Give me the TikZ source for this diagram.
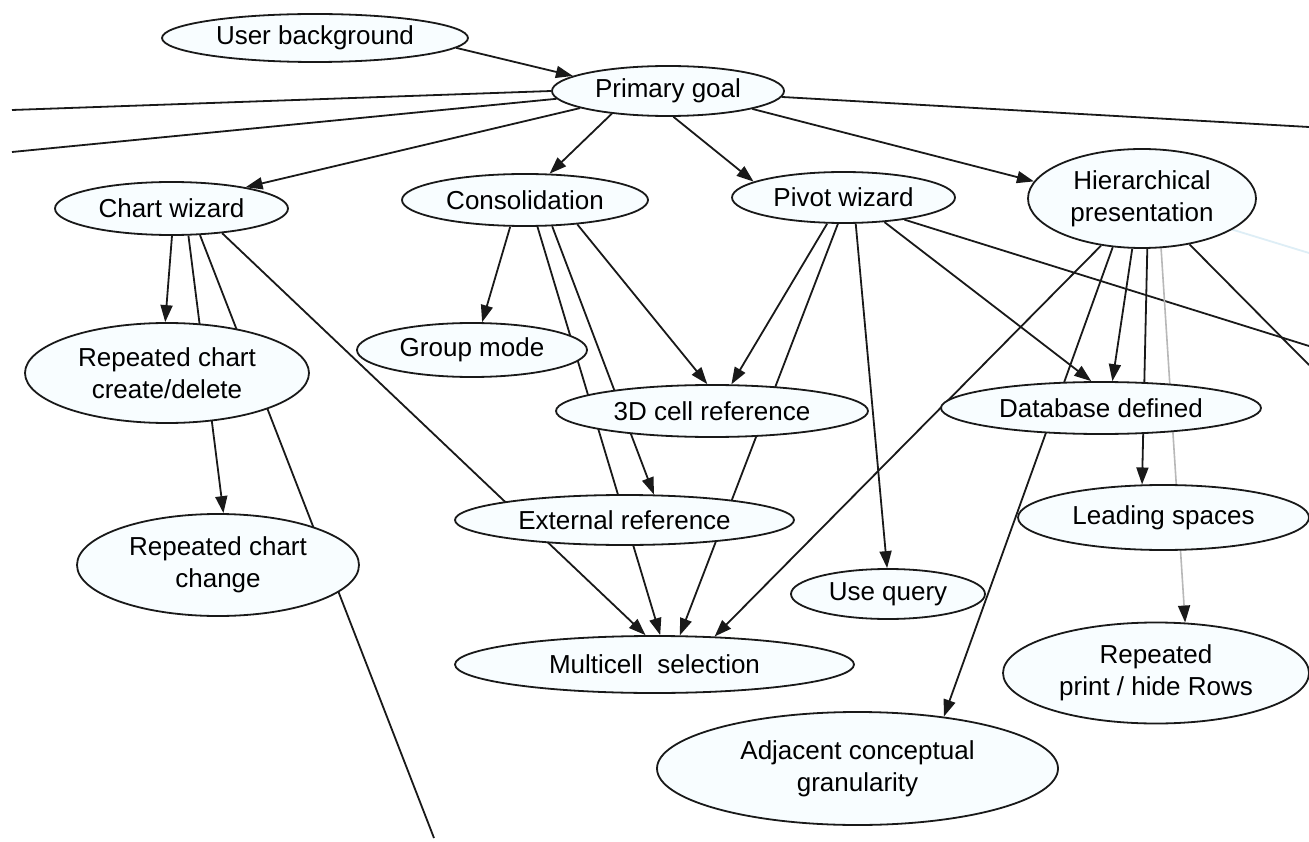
\documentclass[tikz,border=0pt]{standalone}
\usepackage{fontspec}
\setmainfont{Liberation Sans}
\usetikzlibrary{shapes.geometric,arrows.meta,backgrounds}
\definecolor{nodefill}{RGB}{248,253,255}
\definecolor{faintline}{RGB}{222,238,246}
\tikzset{
  state/.style={ellipse, draw=black!90, line width=1.8pt, fill=nodefill,
    inner sep=0pt, align=center, font=\fontsize{26}{32}\selectfont},
  link/.style={draw=black!90, line width=1.8pt},
  arr/.style={link, -{Triangle[length=17pt,width=12pt]}},
  arrlight/.style={draw=black!28, line width=1.6pt,
    -{Triangle[length=17pt,width=12pt,color=black!90]}},
}
\begin{document}
\begin{tikzpicture}[x=1pt,y=-1pt]
\useasboundingbox (0,0) rectangle (1309,842);

% goal hierarchy nodes
\node[state, minimum width=306pt, minimum height=48pt]  (ub)  at (315,38)       {User background};
\node[state, minimum width=232pt, minimum height=50pt]  (pg)  at (668,91)       {Primary goal};
\node[state, minimum width=233pt, minimum height=53pt]  (cw)  at (171.5,208.5)  {Chart wizard};
\node[state, minimum width=246pt, minimum height=52pt]  (co)  at (525,200)      {Consolidation};
\node[state, minimum width=223pt, minimum height=51pt]  (pw)  at (843.5,197.5)  {Pivot wizard};
\node[state, minimum width=228pt, minimum height=99pt]  (hp)  at (1142,198.5)   {Hierarchical\\presentation};
\node[state, minimum width=284pt, minimum height=100pt] (rcd) at (167,373)      {Repeated chart\\create/delete};
\node[state, minimum width=230pt, minimum height=54pt]  (gm)  at (472,350)      {Group mode};
\node[state, minimum width=312pt, minimum height=52pt]  (c3)  at (712,411)      {3D cell reference};
\node[state, minimum width=320pt, minimum height=52pt]  (db)  at (1101,408)     {Database defined};
\node[state, minimum width=282pt, minimum height=102pt] (rch) at (218,565)      {Repeated chart\\change};
\node[state, minimum width=339pt, minimum height=50pt]  (er)  at (624.5,520)    {External reference};
\node[state, minimum width=291pt, minimum height=65pt]  (ls)  at (1163.5,517.5) {Leading spaces};
\node[state, minimum width=194pt, minimum height=50pt]  (uq)  at (888,594)      {Use query};
\node[state, minimum width=399pt, minimum height=57pt]  (mc)  at (654.5,664.5)  {Multicell\ \ selection};
\node[state, minimum width=306pt, minimum height=101pt] (rp)  at (1156,673)     {Repeated\\print / hide Rows};
\node[state, minimum width=401pt, minimum height=113pt] (ad)  at (857.5,768.5)  {Adjacent conceptual\\granularity};

% loose ends of edges leaving the drawing area
\coordinate (offL1) at (12,110);
\coordinate (offL2) at (12,152);
\coordinate (offR1) at (1309,127);
\coordinate (offR2) at (1309,346);
\coordinate (offR3) at (1309,365);
\coordinate (offR4) at (1309,253);
\coordinate (offB)  at (434,838);

\begin{pgfonlayer}{background}
\fill[white] (0,0) rectangle (1309,842);
% primary goal
\draw[arr]  (ub.-4)   -- (pg.171);
\draw[link] (pg.180)  -- (offL1);
\draw[link] (pg.184)  -- (offL2);
\draw[link] (pg.-3)   -- (offR1);
\draw[arr]  (pg.191)  -- (cw.16);
\draw[arr]  (pg.202)  -- (co.47);
\draw[arr]  (pg.-78)  -- (pw.170);
\draw[arr]  (pg.-12)  -- (hp.171);
% chart wizard
\draw[arr]  (cw.-89)  -- (rcd.92);
\draw[arr]  (cw.-58)  -- (rch.84);
\draw[link] (cw.-43)  -- (offB);
\draw[arr]  (cw.-26)  -- (mc.107);
% consolidation
\draw[arr]  (co.241)  -- (gm.70);
\draw[arr]  (co.-65)  -- (mc.79);
\draw[arr]  (co.-44)  -- (er.41);
\draw[arr]  (co.-25)  -- (c3.100);
% pivot wizard
\draw[arr]  (pw.238)  -- (c3.54);
\draw[arr]  (pw.258)  -- (mc.49);
\draw[arr]  (pw.-65)  -- (uq.92);
\draw[arr]  (pw.-31)  -- (db.110);
\draw[link] (pw.-20)  -- (offR2);
% hierarchical presentation
\draw[arr]  (hp.229)  -- (mc.25);
\draw[arr]  (hp.239)  -- (ad.31);
\draw[arr]  (hp.259)  -- (db.67);
\draw[arr]  (hp.-84)  -- (ls.123);
\draw[arrlight] (hp.-69) -- (rp.60);
\draw[link] (hp.-44)  -- (offR3);
\draw[link, draw=faintline] (hp.-19) -- (offR4);
\end{pgfonlayer}
\end{tikzpicture}
\end{document}
